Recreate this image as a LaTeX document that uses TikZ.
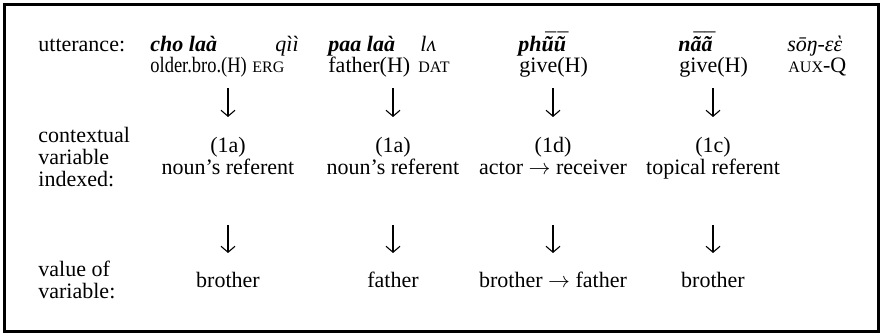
\documentclass[tikz,border=0pt]{standalone}
\usepackage{fontspec}
\setmainfont{Liberation Serif}
\usetikzlibrary{arrows.meta}
\newcommand{\gsc}[1]{{\fontsize{8}{8}\selectfont #1}}
% vowel with tilde and macron stacked
\newcommand{\tmac}[1]{\ooalign{#1\cr\hidewidth\kern0.12em\raisebox{0.16em}{¯}\hidewidth\cr}}
\tikzstyle{rowLabel} = [anchor=base west, inner sep=0pt, align=left]
\tikzstyle{word} = [anchor=base west, inner sep=0pt, font=\fontsize{11}{11}\selectfont\bfseries\itshape]
\tikzstyle{morph} = [anchor=base west, inner sep=0pt, font=\fontsize{11}{11}\selectfont\itshape]
\tikzstyle{gloss} = [anchor=base west, inner sep=0pt]
\tikzstyle{cell} = [anchor=base, inner sep=0pt, align=center]
\tikzstyle{arrow} = [line width=0.55pt, -{Straight Barb[length=3pt,width=7pt]}]
\begin{document}
\begin{tikzpicture}[x=0.5pt, y=-0.5pt, font=\fontsize{11}{11}\selectfont]
\useasboundingbox (0,0) rectangle (881,335);
\draw [line width=1.5pt] (4.5,4.5) rectangle (878.5,332);

% row labels (base = last line)
\node (uttLabel) [rowLabel] at (38,52) {utterance:};
\node (ctxLabel) [rowLabel] at (38,187) {contextual\\variable\\indexed:};
\node (valLabel) [rowLabel] at (38,299) {value of\\variable:};

% utterance
\node (word1) [word] at (150,52) {cho laà};
\node (ergWord) [morph] at (275,52) {qìì};
\node (word2) [word] at (328,52) {paa laà};
\node (datWord) [morph] at (420,52) {lʌ};
\node (word3) [word] at (518,52) {ph\tmac{ũ}\tmac{ũ}};
\node (word4) [word] at (678,52) {n\tmac{ã}\tmac{ã}};
\node (auxWord) [morph] at (787,52) {sōŋ-εὲ};
\node (gloss1) [gloss, font=\fontsize{11}{11}\selectfont\addfontfeature{FakeStretch=0.84}] at (150,73) {older.bro.(H)};
\node (ergGloss) [gloss] at (252,73) {\gsc{ERG}};
\node (gloss2) [gloss] at (328,73) {father(H)};
\node (datGloss) [gloss] at (418,73) {\gsc{DAT}};
\node (gloss3) [gloss] at (519,73) {give(H)};
\node (gloss4) [gloss] at (679,73) {give(H)};
\node (auxGloss) [gloss] at (788,73) {\gsc{AUX}-Q};

% contextual variables
\node (var1) [cell] at (228,175) {(1a)\\noun’s referent};
\node (var2) [cell] at (393,175) {(1a)\\noun’s referent};
\node (var3) [cell] at (553,175) {(1d)\\actor $\rightarrow$ receiver};
\node (var4) [cell] at (713,175) {(1c)\\topical referent};

% values
\node (val1) [cell] at (228,288) {brother};
\node (val2) [cell] at (393,288) {father};
\node (val3) [cell] at (553,288) {brother $\rightarrow$ father};
\node (val4) [cell] at (713,288) {brother};

\coordinate (topA1) at (228,88);
\coordinate (endA1) at (228,117);
\coordinate (topA2) at (393,88);
\coordinate (endA2) at (393,117);
\coordinate (topA3) at (553,88);
\coordinate (endA3) at (553,117);
\coordinate (topA4) at (713,88);
\coordinate (endA4) at (713,117);
\coordinate (topB1) at (228,225);
\coordinate (endB1) at (228,253);
\coordinate (topB2) at (393,225);
\coordinate (endB2) at (393,253);
\coordinate (topB3) at (553,225);
\coordinate (endB3) at (553,253);
\coordinate (topB4) at (713,225);
\coordinate (endB4) at (713,253);

\draw [arrow] (topA1) -- (endA1);
\draw [arrow] (topA2) -- (endA2);
\draw [arrow] (topA3) -- (endA3);
\draw [arrow] (topA4) -- (endA4);
\draw [arrow] (topB1) -- (endB1);
\draw [arrow] (topB2) -- (endB2);
\draw [arrow] (topB3) -- (endB3);
\draw [arrow] (topB4) -- (endB4);
\end{tikzpicture}
\end{document}
